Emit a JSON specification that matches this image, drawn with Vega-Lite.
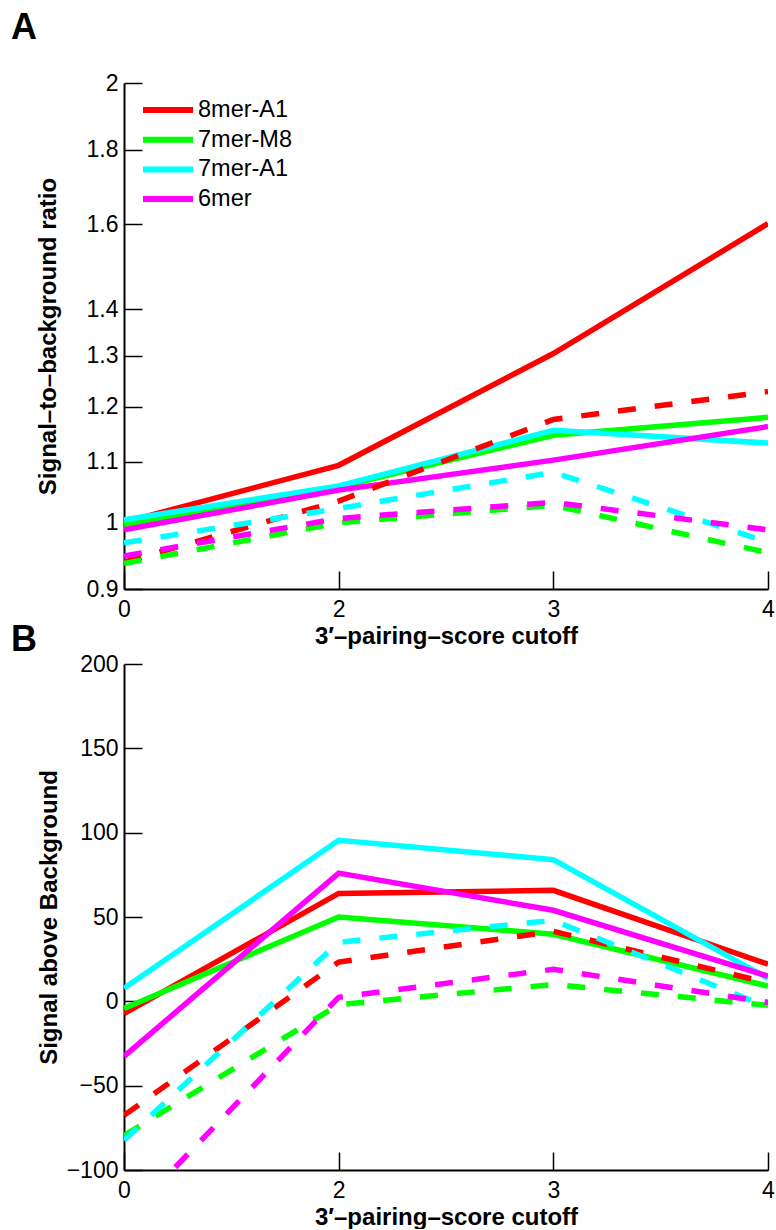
{
  "$schema": "https://vega.github.io/schema/vega-lite/v6.json",
  "background": "white",
  "padding": {"left": 11, "top": 10, "right": 0, "bottom": 0},
  "autosize": {"type": "pad"},
  "datasets": {
    "d": [
      {"panel": "A", "series": "8mer-A1", "style": "solid", "cutoff": 0, "value": 1.000},
      {"panel": "A", "series": "8mer-A1", "style": "solid", "cutoff": 2, "value": 1.094},
      {"panel": "A", "series": "8mer-A1", "style": "solid", "cutoff": 3, "value": 1.305},
      {"panel": "A", "series": "8mer-A1", "style": "solid", "cutoff": 4, "value": 1.602},
      {"panel": "A", "series": "7mer-M8", "style": "solid", "cutoff": 0, "value": 0.996},
      {"panel": "A", "series": "7mer-M8", "style": "solid", "cutoff": 2, "value": 1.057},
      {"panel": "A", "series": "7mer-M8", "style": "solid", "cutoff": 3, "value": 1.147},
      {"panel": "A", "series": "7mer-M8", "style": "solid", "cutoff": 4, "value": 1.180},
      {"panel": "A", "series": "7mer-A1", "style": "solid", "cutoff": 0, "value": 1.004},
      {"panel": "A", "series": "7mer-A1", "style": "solid", "cutoff": 2, "value": 1.059},
      {"panel": "A", "series": "7mer-A1", "style": "solid", "cutoff": 3, "value": 1.156},
      {"panel": "A", "series": "7mer-A1", "style": "solid", "cutoff": 4, "value": 1.133},
      {"panel": "A", "series": "6mer", "style": "solid", "cutoff": 0, "value": 0.988},
      {"panel": "A", "series": "6mer", "style": "solid", "cutoff": 2, "value": 1.052},
      {"panel": "A", "series": "6mer", "style": "solid", "cutoff": 3, "value": 1.103},
      {"panel": "A", "series": "6mer", "style": "solid", "cutoff": 4, "value": 1.163},
      {"panel": "A", "series": "8mer-A1", "style": "dashed", "cutoff": 0, "value": 0.939},
      {"panel": "A", "series": "8mer-A1", "style": "dashed", "cutoff": 2, "value": 1.034},
      {"panel": "A", "series": "8mer-A1", "style": "dashed", "cutoff": 3, "value": 1.176},
      {"panel": "A", "series": "8mer-A1", "style": "dashed", "cutoff": 4, "value": 1.229},
      {"panel": "A", "series": "7mer-M8", "style": "dashed", "cutoff": 0, "value": 0.937},
      {"panel": "A", "series": "7mer-M8", "style": "dashed", "cutoff": 2, "value": 0.999},
      {"panel": "A", "series": "7mer-M8", "style": "dashed", "cutoff": 3, "value": 1.027},
      {"panel": "A", "series": "7mer-M8", "style": "dashed", "cutoff": 4, "value": 0.953},
      {"panel": "A", "series": "7mer-A1", "style": "dashed", "cutoff": 0, "value": 0.968},
      {"panel": "A", "series": "7mer-A1", "style": "dashed", "cutoff": 2, "value": 1.022},
      {"panel": "A", "series": "7mer-A1", "style": "dashed", "cutoff": 3, "value": 1.082},
      {"panel": "A", "series": "7mer-A1", "style": "dashed", "cutoff": 4, "value": 0.969},
      {"panel": "A", "series": "6mer", "style": "dashed", "cutoff": 0, "value": 0.948},
      {"panel": "A", "series": "6mer", "style": "dashed", "cutoff": 2, "value": 1.006},
      {"panel": "A", "series": "6mer", "style": "dashed", "cutoff": 3, "value": 1.032},
      {"panel": "A", "series": "6mer", "style": "dashed", "cutoff": 4, "value": 0.988},
      {"panel": "B", "series": "8mer-A1", "style": "solid", "cutoff": 0, "value": -7.3},
      {"panel": "B", "series": "8mer-A1", "style": "solid", "cutoff": 2, "value": 64},
      {"panel": "B", "series": "8mer-A1", "style": "solid", "cutoff": 3, "value": 65.8},
      {"panel": "B", "series": "8mer-A1", "style": "solid", "cutoff": 4, "value": 22},
      {"panel": "B", "series": "7mer-M8", "style": "solid", "cutoff": 0, "value": -4.2},
      {"panel": "B", "series": "7mer-M8", "style": "solid", "cutoff": 2, "value": 50},
      {"panel": "B", "series": "7mer-M8", "style": "solid", "cutoff": 3, "value": 39.8},
      {"panel": "B", "series": "7mer-M8", "style": "solid", "cutoff": 4, "value": 9},
      {"panel": "B", "series": "7mer-A1", "style": "solid", "cutoff": 0, "value": 7.7},
      {"panel": "B", "series": "7mer-A1", "style": "solid", "cutoff": 2, "value": 95.5},
      {"panel": "B", "series": "7mer-A1", "style": "solid", "cutoff": 3, "value": 84},
      {"panel": "B", "series": "7mer-A1", "style": "solid", "cutoff": 4, "value": 13.6},
      {"panel": "B", "series": "6mer", "style": "solid", "cutoff": 0, "value": -32.6},
      {"panel": "B", "series": "6mer", "style": "solid", "cutoff": 2, "value": 76},
      {"panel": "B", "series": "6mer", "style": "solid", "cutoff": 3, "value": 54},
      {"panel": "B", "series": "6mer", "style": "solid", "cutoff": 4, "value": 15},
      {"panel": "B", "series": "8mer-A1", "style": "dashed", "cutoff": 0, "value": -67.6},
      {"panel": "B", "series": "8mer-A1", "style": "dashed", "cutoff": 2, "value": 23.3},
      {"panel": "B", "series": "8mer-A1", "style": "dashed", "cutoff": 3, "value": 41.5},
      {"panel": "B", "series": "8mer-A1", "style": "dashed", "cutoff": 4, "value": 11},
      {"panel": "B", "series": "7mer-M8", "style": "dashed", "cutoff": 0, "value": -79.5},
      {"panel": "B", "series": "7mer-M8", "style": "dashed", "cutoff": 2, "value": -2},
      {"panel": "B", "series": "7mer-M8", "style": "dashed", "cutoff": 3, "value": 10},
      {"panel": "B", "series": "7mer-M8", "style": "dashed", "cutoff": 4, "value": -2.4},
      {"panel": "B", "series": "7mer-A1", "style": "dashed", "cutoff": 0, "value": -82.4},
      {"panel": "B", "series": "7mer-A1", "style": "dashed", "cutoff": 2, "value": 35},
      {"panel": "B", "series": "7mer-A1", "style": "dashed", "cutoff": 3, "value": 48},
      {"panel": "B", "series": "7mer-A1", "style": "dashed", "cutoff": 4, "value": -3.5},
      {"panel": "B", "series": "6mer", "style": "dashed", "cutoff": 0, "value": -130},
      {"panel": "B", "series": "6mer", "style": "dashed", "cutoff": 2, "value": 2.4},
      {"panel": "B", "series": "6mer", "style": "dashed", "cutoff": 3, "value": 19},
      {"panel": "B", "series": "6mer", "style": "dashed", "cutoff": 4, "value": -0.6}
    ]
  },
  "bounds": "flush",
  "spacing": 75,
  "resolve": {"scale": {"y": "independent"}, "legend": {"color": "independent"}},
  "vconcat": [
    {
      "width": 644,
      "height": 506,
      "title": {"text": "A", "anchor": "start", "frame": "group", "dx": -113, "offset": 25},
      "data": {"name": "d"},
      "transform": [{"filter": "datum.panel === 'A'"}],
      "encoding": {
        "x": {"field": "cutoff", "type": "ordinal", "scale": {"type": "point", "padding": 0}, "axis": {"title": "3′–pairing–score cutoff", "labelAngle": 0}},
        "y": {"field": "value", "type": "quantitative", "scale": {"type": "log", "domain": [0.9, 2], "nice": false}, "axis": {"values": [0.9, 1, 1.1, 1.2, 1.3, 1.4, 1.6, 1.8, 2], "format": "~g", "title": "Signal–to–background ratio", "titlePadding": 26}},
        "color": {"field": "series", "type": "nominal", "sort": null,
          "scale": {"domain": ["8mer-A1", "7mer-M8", "7mer-A1", "6mer"], "range": ["#ff0000", "#00ff00", "#00ffff", "#ff00ff"]},
          "legend": {"orient": "none", "legendX": 31, "legendY": 14, "title": null, "symbolType": "M-2.5,0H2.5", "symbolSize": 400, "symbolStrokeWidth": 6, "symbolFillColor": "transparent", "labelFont": "Liberation Sans", "labelFontSize": 23.5, "labelColor": "black", "labelOffset": 17, "rowPadding": 4.7, "padding": 0}}
      },
      "layer": [
        {"transform": [{"filter": "datum.style === 'solid'"}], "mark": {"type": "line", "strokeWidth": 5.5, "clip": true, "strokeCap": "butt"}},
        {"transform": [{"filter": "datum.style === 'dashed'"}], "mark": {"type": "line", "strokeWidth": 5.5, "clip": true, "strokeCap": "butt", "strokeDash": [18, 19]}}
      ]
    },
    {
      "width": 644,
      "height": 506,
      "title": {"text": "B", "anchor": "start", "frame": "group", "dx": -113, "dy": 26, "offset": 20},
      "data": {"name": "d"},
      "transform": [{"filter": "datum.panel === 'B'"}],
      "encoding": {
        "x": {"field": "cutoff", "type": "ordinal", "scale": {"type": "point", "padding": 0}, "axis": {"title": "3′–pairing–score cutoff", "labelAngle": 0}},
        "y": {"field": "value", "type": "quantitative", "scale": {"domain": [-100, 200], "nice": false, "zero": false}, "axis": {"values": [-100, -50, 0, 50, 100, 150, 200], "title": "Signal above Background", "titlePadding": 5}},
        "color": {"field": "series", "type": "nominal", "sort": null,
          "scale": {"domain": ["8mer-A1", "7mer-M8", "7mer-A1", "6mer"], "range": ["#ff0000", "#00ff00", "#00ffff", "#ff00ff"]},
          "legend": null}
      },
      "layer": [
        {"transform": [{"filter": "datum.style === 'solid'"}], "mark": {"type": "line", "strokeWidth": 5.5, "clip": true, "strokeCap": "butt"}},
        {"transform": [{"filter": "datum.style === 'dashed'"}], "mark": {"type": "line", "strokeWidth": 5.5, "clip": true, "strokeCap": "butt", "strokeDash": [18, 19]}}
      ]
    }
  ],
  "config": {
    "font": "Liberation Sans",
    "view": {"stroke": null},
    "title": {"font": "Liberation Sans", "fontSize": 36, "fontWeight": "bold", "color": "black"},
    "axis": {
      "grid": false,
      "domainColor": "black", "domainWidth": 2,
      "tickColor": "black", "tickWidth": 1.5, "tickSize": -18,
      "labelFont": "Liberation Sans", "labelFontSize": 23, "labelColor": "black",
      "labelOverlap": false, "labelFlush": false,
      "titleFont": "Liberation Sans", "titleFontSize": 24, "titleFontWeight": "bold", "titleColor": "black"
    },
    "axisX": {"labelPadding": 27, "titlePadding": 3},
    "axisY": {"labelPadding": 24}
  }
}
